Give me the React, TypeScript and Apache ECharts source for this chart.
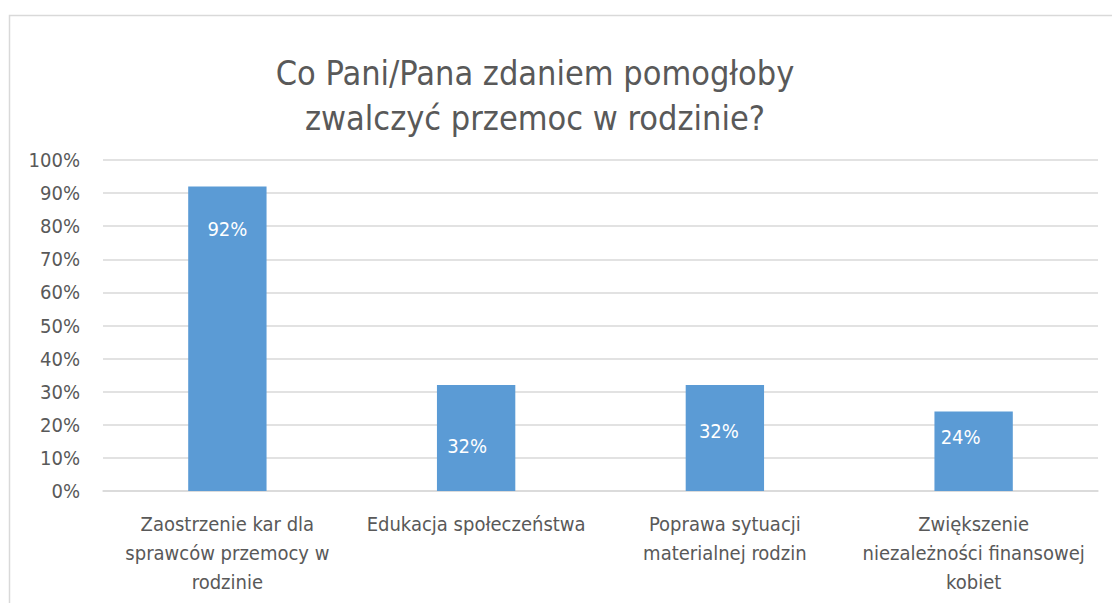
import React, { useEffect, useRef } from "react";
import * as echarts from "echarts";

const title = "Co Pani/Pana zdaniem pomogłoby\nzwalczyć przemoc w rodzinie?";
const categories = [
  "Zaostrzenie kar dla\nsprawców przemocy w\nrodzinie",
  "Edukacja społeczeństwa",
  "Poprawa sytuacji\nmaterialnej rodzin",
  "Zwiększenie\nniezależności finansowej\nkobiet",
];
const values = [92, 32, 32, 24];
const yTicks = { min: 0, max: 100, interval: 10 };

// label nudges (style only), [dx, dy] from bar top
const labelNudge: [number, number][] = [
  [0, 33],
  [-9, 51],
  [-6, 36],
  [-13, 15],
];

const FONT = "'DejaVu Sans Condensed', 'Liberation Sans', sans-serif";
const GREY = "#595959";

export default function App() {
  const ref = useRef<HTMLDivElement>(null);
  useEffect(() => {
    document.body.style.margin = "0";
    const chart = echarts.init(ref.current!, null, { renderer: "svg" });
    chart.setOption({
      animation: false,
      backgroundColor: "#ffffff",
      textStyle: { fontFamily: FONT },
      title: {
        text: title,
        left: 530,
        textAlign: "center",
        top: 45,
        textStyle: {
          fontFamily: FONT,
          fontSize: 34,
          fontWeight: "normal",
          color: GREY,
          lineHeight: 45,
        },
      },
      graphic: [
        {
          type: "rect",
          shape: { x: 9.5, y: 15.5, width: 1200, height: 700 },
          style: { fill: "none", stroke: "#d9d9d9", lineWidth: 1.5 },
          silent: true,
        },
      ],
      grid: { left: 103, right: 14, top: 160, bottom: 112, containLabel: false },
      xAxis: {
        type: "category",
        data: categories,
        axisLine: { show: true, lineStyle: { color: "#d9d9d9", width: 1.5 } },
        axisTick: { show: false },
        axisLabel: {
          interval: 0,
          color: GREY,
          fontFamily: FONT,
          fontSize: 20,
          lineHeight: 29,
          margin: 18,
        },
      },
      yAxis: {
        type: "value",
        min: yTicks.min,
        max: yTicks.max,
        interval: yTicks.interval,
        axisLine: { show: false },
        axisTick: { show: false },
        splitLine: { lineStyle: { color: "#d9d9d9", width: 1.5 } },
        axisLabel: {
          formatter: "{value}%",
          color: GREY,
          fontFamily: FONT,
          fontSize: 20,
          margin: 23,
        },
      },
      series: [
        {
          type: "bar",
          barWidth: "31.5%",
          itemStyle: { color: "#5b9bd5" },
          data: values.map((v, i) => ({
            value: v,
            label: { offset: labelNudge[i] },
          })),
          label: {
            show: true,
            position: "insideTop",
            distance: 0,
            formatter: "{c}%",
            color: "#ffffff",
            fontFamily: FONT,
            fontSize: 20,
          },
        },
      ],
    });
    return () => chart.dispose();
  }, []);
  return <div ref={ref} style={{ width: 1112, height: 603 }} />;
}
